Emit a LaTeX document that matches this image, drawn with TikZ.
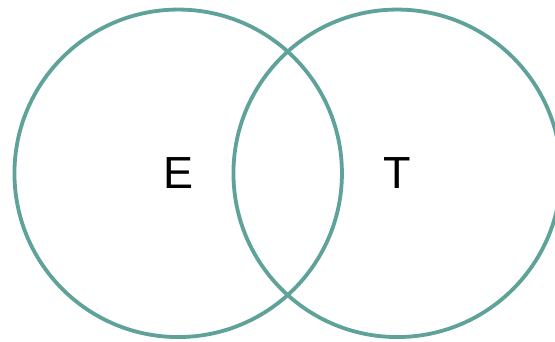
\documentclass[tikz,border=0pt]{standalone}
\usepackage{fontspec}
\setmainfont{Liberation Sans}
\definecolor{ringc}{RGB}{94,162,154}
\begin{document}
\begin{tikzpicture}[x=1pt,y=-1pt,
  ring/.style={draw=ringc,line width=3.8pt,circle,minimum size=327.5pt,inner sep=0pt},
  lbl/.style={font=\fontsize{45}{45}\selectfont,text=black,inner sep=0pt}]
\useasboundingbox (0,0) rectangle (555,341);
\begin{scope}
\clip (0,0) rectangle (555,341);
\node[ring] (e) at (178.2,173.3) {};
\node[ring] (t) at (397.2,173.3) {};
\end{scope}
\node[lbl] (el) at (178.3,173.3) {E};
\node[lbl] (tl) at (397.5,173.3) {T};
\end{tikzpicture}
\end{document}
